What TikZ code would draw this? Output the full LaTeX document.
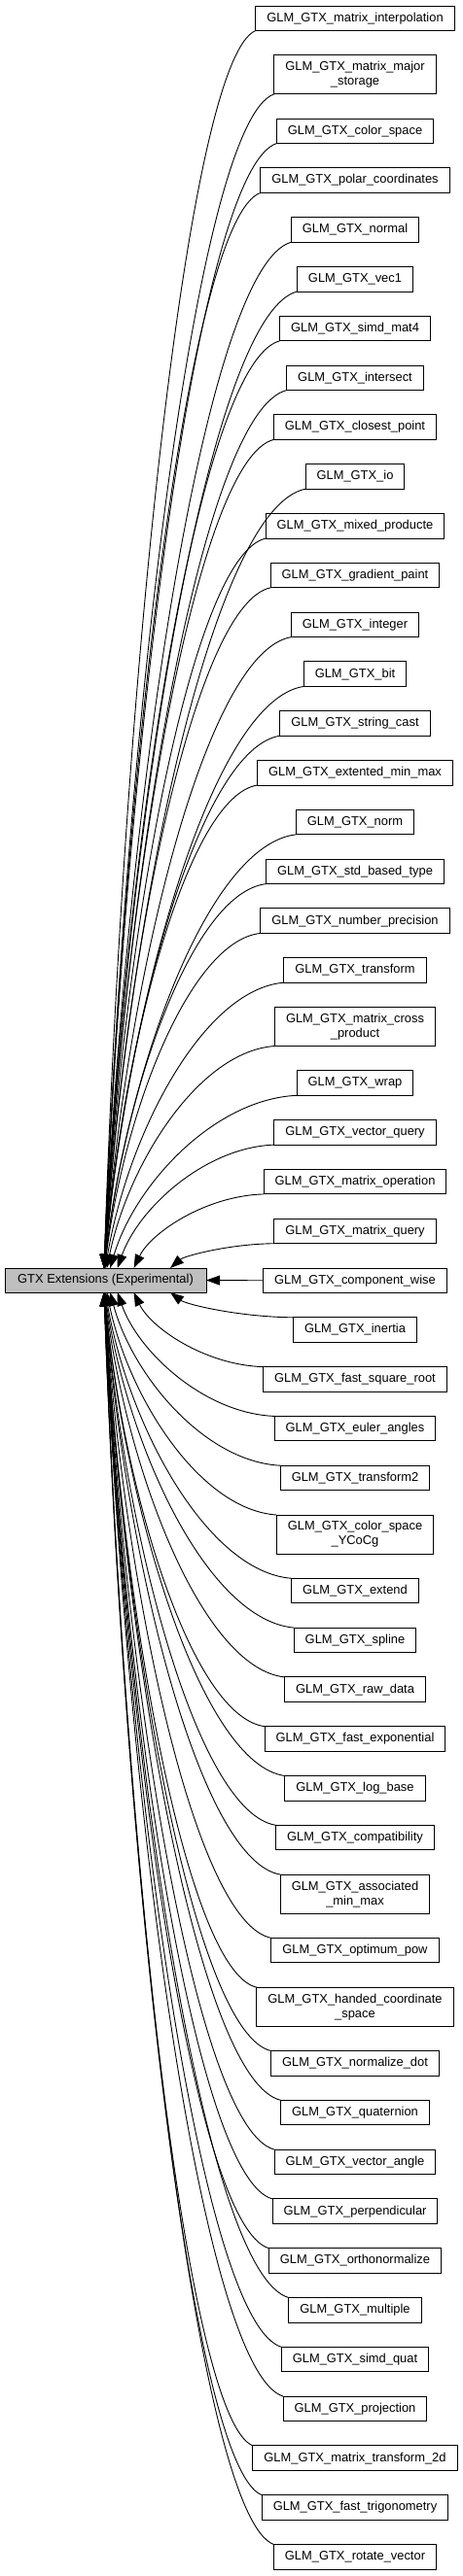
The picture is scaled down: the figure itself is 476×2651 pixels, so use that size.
\documentclass[tikz,border=0pt]{standalone}
\usepackage{fontspec}
\setmainfont{Liberation Sans}
\usetikzlibrary{positioning,calc,arrows.meta}
\definecolor{cgray}{HTML}{BFBFBF}
\tikzset{
  box/.style={draw=black, line width=1pt, fill=white, inner xsep=11.5pt, inner ysep=2pt, outer sep=0pt,
    minimum height=25.5pt, align=center, font=\fontsize{12.9pt}{15pt}\selectfont},
  dbl/.style={minimum height=40pt},
  edge/.style={draw=black, line width=0.9pt, -{Triangle[length=14pt,width=10pt]}},
  gap/.style={below=25.3pt of #1}
}
\begin{document}
\begin{tikzpicture}[x=1pt,y=1pt]
\useasboundingbox (0,0) rectangle (476,-2651);
\node[box, fill=cgray, minimum width=207pt, minimum height=25pt] (c) at (108.5,-1317.5) {GTX Extensions (Experimental)};
\node[box, anchor=north] (n1) at (365,-6) {GLM\_GTX\_matrix\_interpolation};
\node[box, dbl, gap=n1] (n2) {GLM\_GTX\_matrix\_major\\\_storage};
\node[box, gap=n2] (n3) {GLM\_GTX\_color\_space};
\node[box, gap=n3] (n4) {GLM\_GTX\_polar\_coordinates};
\node[box, gap=n4] (n5) {GLM\_GTX\_normal};
\node[box, gap=n5] (n6) {GLM\_GTX\_vec1};
\node[box, gap=n6] (n7) {GLM\_GTX\_simd\_mat4};
\node[box, gap=n7] (n8) {GLM\_GTX\_intersect};
\node[box, gap=n8] (n9) {GLM\_GTX\_closest\_point};
\node[box, gap=n9] (n10) {GLM\_GTX\_io};
\node[box, gap=n10] (n11) {GLM\_GTX\_mixed\_producte};
\node[box, gap=n11] (n12) {GLM\_GTX\_gradient\_paint};
\node[box, gap=n12] (n13) {GLM\_GTX\_integer};
\node[box, gap=n13] (n14) {GLM\_GTX\_bit};
\node[box, gap=n14] (n15) {GLM\_GTX\_string\_cast};
\node[box, gap=n15] (n16) {GLM\_GTX\_extented\_min\_max};
\node[box, gap=n16] (n17) {GLM\_GTX\_norm};
\node[box, gap=n17] (n18) {GLM\_GTX\_std\_based\_type};
\node[box, gap=n18] (n19) {GLM\_GTX\_number\_precision};
\node[box, gap=n19] (n20) {GLM\_GTX\_transform};
\node[box, dbl, gap=n20] (n21) {GLM\_GTX\_matrix\_cross\\\_product};
\node[box, gap=n21] (n22) {GLM\_GTX\_wrap};
\node[box, gap=n22] (n23) {GLM\_GTX\_vector\_query};
\node[box, gap=n23] (n24) {GLM\_GTX\_matrix\_operation};
\node[box, gap=n24] (n25) {GLM\_GTX\_matrix\_query};
\node[box, gap=n25] (n26) {GLM\_GTX\_component\_wise};
\node[box, gap=n26] (n27) {GLM\_GTX\_inertia};
\node[box, gap=n27] (n28) {GLM\_GTX\_fast\_square\_root};
\node[box, gap=n28] (n29) {GLM\_GTX\_euler\_angles};
\node[box, gap=n29] (n30) {GLM\_GTX\_transform2};
\node[box, dbl, gap=n30] (n31) {GLM\_GTX\_color\_space\\\_YCoCg};
\node[box, gap=n31] (n32) {GLM\_GTX\_extend};
\node[box, gap=n32] (n33) {GLM\_GTX\_spline};
\node[box, gap=n33] (n34) {GLM\_GTX\_raw\_data};
\node[box, gap=n34] (n35) {GLM\_GTX\_fast\_exponential};
\node[box, gap=n35] (n36) {GLM\_GTX\_log\_base};
\node[box, gap=n36] (n37) {GLM\_GTX\_compatibility};
\node[box, dbl, gap=n37] (n38) {GLM\_GTX\_associated\\\_min\_max};
\node[box, gap=n38] (n39) {GLM\_GTX\_optimum\_pow};
\node[box, dbl, gap=n39] (n40) {GLM\_GTX\_handed\_coordinate\\\_space};
\node[box, gap=n40] (n41) {GLM\_GTX\_normalize\_dot};
\node[box, gap=n41] (n42) {GLM\_GTX\_quaternion};
\node[box, gap=n42] (n43) {GLM\_GTX\_vector\_angle};
\node[box, gap=n43] (n44) {GLM\_GTX\_perpendicular};
\node[box, gap=n44] (n45) {GLM\_GTX\_orthonormalize};
\node[box, gap=n45] (n46) {GLM\_GTX\_multiple};
\node[box, gap=n46] (n47) {GLM\_GTX\_simd\_quat};
\node[box, gap=n47] (n48) {GLM\_GTX\_projection};
\node[box, gap=n48] (n49) {GLM\_GTX\_matrix\_transform\_2d};
\node[box, gap=n49] (n50) {GLM\_GTX\_fast\_trigonometry};
\node[box, gap=n50] (n51) {GLM\_GTX\_rotate\_vector};
% edges from upper nodes
\foreach \i in {1,...,25}{
  \pgfmathsetmacro\ex{107+68*pow(0.45,min(25-\i,12))}
  \draw[edge] let \p1=(n\i.south west), \p2=(c.north) in
    (\p1) .. controls ({\x1-0.45*(\x1-\ex pt)},{\y1-0.023*(\y1-\y2)})
    and ({\ex pt+0.13*(\x1-\ex pt)},{\y1-0.525*(\y1-\y2)}) .. (\ex pt,\y2);
}
% edges from lower nodes
\foreach \i in {27,...,51}{
  \pgfmathsetmacro\ex{107+68*pow(0.45,min(\i-27,12))}
  \draw[edge] let \p1=(n\i.north west), \p2=(c.south) in
    (\p1) .. controls ({\x1-0.45*(\x1-\ex pt)},{\y1-0.023*(\y1-\y2)})
    and ({\ex pt+0.13*(\x1-\ex pt)},{\y1-0.525*(\y1-\y2)}) .. (\ex pt,\y2);
}
\draw[edge] (n26.west) -- (c.east);
\end{tikzpicture}
\end{document}
